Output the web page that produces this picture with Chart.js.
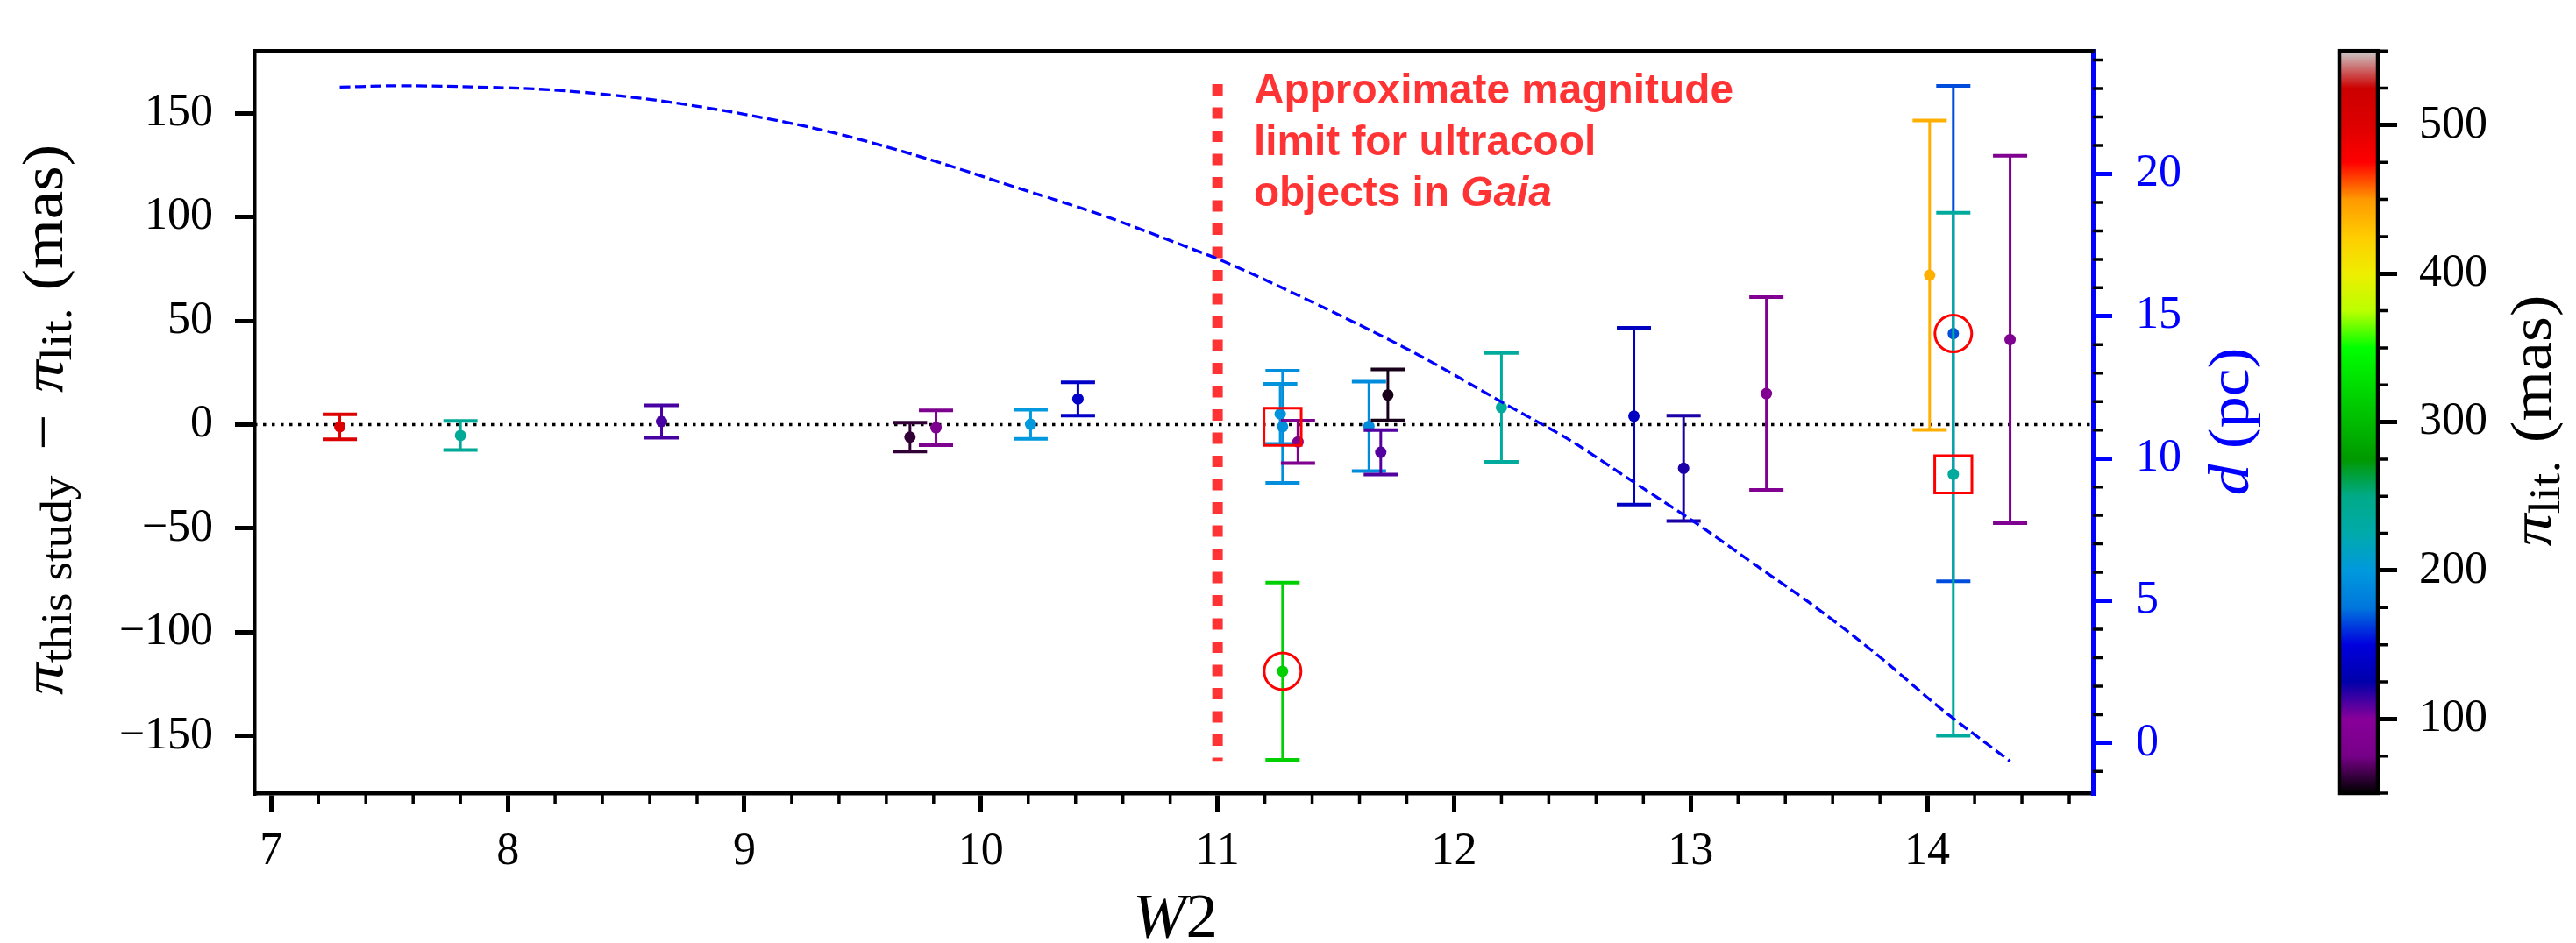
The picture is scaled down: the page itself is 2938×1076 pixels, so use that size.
<!DOCTYPE html>
<html>
<head>
<meta charset="utf-8">
<script src="https://cdn.jsdelivr.net/npm/chart.js@4.4.0/dist/chart.umd.min.js"></script>
<style>
  html, body { margin: 0; padding: 0; background: #fff; }
  #wrap { width: 2938px; height: 1076px; }
</style>
</head>
<body>
<div id="wrap"><canvas id="plxChart" width="2938" height="1076"></canvas></div>
<script>
// --- values ---
const w2      = [7.29, 7.80, 8.65, 9.70, 9.81, 10.21, 10.41, 11.265, 11.275, 11.275, 11.34, 11.64, 11.69, 11.72, 12.20, 12.76, 12.97, 13.32, 14.01, 14.11, 14.11, 14.35];
const dPlx    = [-1.0, -5.2, 1.5, -6.0, -1.5, 0.2, 12.4, 5.2, -1.0, -118.8, -8.3, -0.8, -13.3, 14.3, 8.3, 4.1, -21.0, 15.0, 72.0, 43.9, -23.9, 41.0];
const dPlxErr = [6.0, 7.0, 7.8, 7.0, 8.4, 7.0, 8.0, 14.5, 27.0, 42.7, 10.2, 21.5, 10.7, 12.3, 26.2, 42.6, 25.4, 46.4, 74.5, 119.3, 126.0, 88.5];
const plxLit  = [501, 240, 112, 60, 85, 200, 140, 196, 192, 315, 85, 190, 110, 55, 235, 137, 120, 90, 439, 166, 235, 88];

// red highlight markers
const circledW2 = [11.275, 14.11];
const circledDPlx = [-118.8, 43.9];
const boxedW2 = [11.275, 14.11];
const boxedDPlx = [-1.0, -23.9];

// distance curve (right axis)
const curveW2 = [7.29, 7.54, 7.80, 8.19, 8.58, 8.97, 9.36, 9.75, 10.14, 10.53, 10.67, 10.95, 11.00, 11.45, 11.84, 12.23, 12.49, 12.75, 13.01, 13.27, 13.53, 13.79, 14.05, 14.35];
const curveD  = [23.05, 23.10, 23.07, 22.95, 22.64, 22.14, 21.48, 20.59, 19.55, 18.50, 18.07, 17.18, 17.02, 15.30, 13.68, 11.85, 10.64, 9.22, 7.80, 6.28, 4.76, 3.09, 1.26, -0.64];

// magnitude limit line
const limitW2 = 11;
const limitRange = [164, -162];

// axes
const xRange = [6.9285, 14.70];
const yRange = [-177.5, 180];
const dRange = [-1.76, 24.32];
const cbRange = [50, 550];
const xTicks = [7, 8, 9, 10, 11, 12, 13, 14];
const xTickLabels = ['7', '8', '9', '10', '11', '12', '13', '14'];
const yTicks = [-150, -100, -50, 0, 50, 100, 150];
const yTickLabels = ['\u2212150', '\u2212100', '\u221250', '0', '50', '100', '150'];
const dTicks = [0, 5, 10, 15, 20];
const dTickLabels = ['0', '5', '10', '15', '20'];
const cbTicks = [100, 200, 300, 400, 500];
const cbTickLabels = ['100', '200', '300', '400', '500'];

// nipy_spectral colormap
const spectral = [[0,0,0],[0.4667,0,0.5333],[0.5333,0,0.6],[0,0,0.6667],[0,0,0.8667],[0,0.4667,0.8667],[0,0.6,0.8667],[0,0.6667,0.6667],[0,0.6667,0.5333],[0,0.6,0],[0,0.7333,0],[0,0.8667,0],[0,1,0],[0.7333,1,0],[0.9333,0.9333,0],[1,0.8,0],[1,0.6,0],[1,0,0],[0.8667,0,0],[0.8,0,0],[0.8,0.8,0.8]];
const rgb = c => 'rgb(' + c.map(v => Math.round(v * 255)).join(',') + ')';
function spectralColor(v) {
  const t = Math.min(1, Math.max(0, (v - cbRange[0]) / (cbRange[1] - cbRange[0]))) * (spectral.length - 1);
  const i = Math.min(spectral.length - 2, Math.floor(t));
  const f = t - i;
  return rgb(spectral[i].map((a, k) => a + (spectral[i + 1][k] - a) * f));
}

const SERIF = '"Liberation Serif", "Times New Roman", serif';
const SANS = '"Liberation Sans", Arial, sans-serif';

// --- datasets ---
const datasets = [];
datasets.push({
  data: curveW2.map((x, i) => ({ x, y: curveD[i] })),
  yAxisID: 'y2', showLine: true, borderColor: '#0000ff', borderWidth: 3.3,
  borderDash: [12, 5.5], pointRadius: 0, cubicInterpolationMode: 'monotone', order: 0
});
datasets.push({
  data: circledW2.map((x, i) => ({ x, y: circledDPlx[i] })),
  pointStyle: 'circle', pointRadius: 21, pointBorderWidth: 3,
  pointBorderColor: '#ff0000', pointBackgroundColor: 'rgba(0,0,0,0)', order: 1
});
datasets.push({
  data: boxedW2.map((x, i) => ({ x, y: boxedDPlx[i] })),
  pointStyle: 'rect', pointRadius: 30, pointBorderWidth: 3,
  pointBorderColor: '#ff0000', pointBackgroundColor: 'rgba(0,0,0,0)', order: 1
});
w2.forEach((x, i) => {
  const c = spectralColor(plxLit[i]);
  datasets.push({
    data: [
      { x, y: dPlx[i] - dPlxErr[i] },
      { x, y: dPlx[i] },
      { x, y: dPlx[i] + dPlxErr[i] }
    ],
    showLine: true, borderColor: c, borderWidth: 3,
    pointStyle: ['line', 'circle', 'line'],
    pointRadius: [19.5, 6.5, 19.5],
    pointBorderWidth: [4, 0, 4],
    pointBorderColor: c, pointBackgroundColor: c,
    order: 100 - i
  });
});
datasets.push({
  data: [{ x: xRange[0], y: 0 }, { x: xRange[1], y: 0 }],
  showLine: true, borderColor: '#000', borderWidth: 3.5, borderDash: [3.5, 6.5],
  pointRadius: 0, order: 200
});
datasets.push({
  data: [{ x: limitW2, y: limitRange[0] }, { x: limitW2, y: limitRange[1] }],
  showLine: true, borderColor: 'rgba(255,0,0,0.8)', borderWidth: 12, borderDash: [13, 13.5],
  borderCapStyle: 'butt', pointRadius: 0, order: 200
});

// --- drawing helpers ---
// draws a row of text runs centred on (cx, cy); stretched along the text to `length` px
function drawRuns(ctx, runs, cx, cy, angle, color, length) {
  ctx.save();
  ctx.translate(cx, cy);
  ctx.rotate(angle);
  ctx.fillStyle = color;
  ctx.textBaseline = 'alphabetic';
  ctx.textAlign = 'left';
  let total = 0;
  runs.forEach(r => {
    if (r.gap) { total += r.gap; return; }
    ctx.font = r.font;
    r.w = ctx.measureText(r.text).width;
    total += r.w;
  });
  if (length) ctx.scale(length / total, 1);
  let pos = -total / 2;
  runs.forEach(r => {
    if (r.gap) { pos += r.gap; return; }
    ctx.font = r.font;
    ctx.fillText(r.text, pos, r.dy || 0);
    pos += r.w;
  });
  ctx.restore();
}

const MAIN = '66px ' + SERIF;
const MATH = 'italic 66px ' + SERIF;
const SUB = '50px ' + SERIF;

const extras = {
  id: 'extras',
  afterDatasetsDraw(chart) {
    const ctx = chart.ctx;
    const xs = chart.scales.x;
    // annotation next to the limit line
    ctx.save();
    ctx.fillStyle = 'rgba(255,0,0,0.8)';
    ctx.textBaseline = 'alphabetic';
    const left = xs.getPixelForValue(11.153);
    ctx.font = 'bold 47px ' + SANS;
    const size = 47 * 547 / ctx.measureText('Approximate magnitude').width;
    ctx.font = 'bold ' + size.toFixed(1) + 'px ' + SANS;
    ctx.fillText('Approximate magnitude', left, 118);
    ctx.fillText('limit for ultracool', left, 177);
    ctx.fillText('objects in ', left, 235);
    const w = ctx.measureText('objects in ').width;
    ctx.font = 'italic bold ' + size.toFixed(1) + 'px ' + SANS;
    ctx.fillText('Gaia', left + w, 235);
    ctx.restore();
  },
  afterDraw(chart) {
    const ctx = chart.ctx;
    const { x, y, y2, cb } = chart.scales;
    const area = chart.chartArea;
    ctx.save();
    // top spine
    ctx.strokeStyle = '#000';
    ctx.lineWidth = 4.5;
    ctx.beginPath();
    ctx.moveTo(area.left - 2, area.top);
    ctx.lineTo(area.right + 2, area.top);
    ctx.stroke();

    // minor ticks
    ctx.lineWidth = 3.5;
    ctx.beginPath();
    for (let k = 35; k <= 73; k++) {
      if (k % 5 === 0) continue;
      const px = x.getPixelForValue(k / 5);
      ctx.moveTo(px, area.bottom); ctx.lineTo(px, area.bottom + 12);
    }
    for (let k = -1; k <= 24; k++) {
      if (k % 5 === 0) continue;
      const py = y2.getPixelForValue(k);
      ctx.moveTo(area.right, py); ctx.lineTo(area.right + 12, py);
    }
    for (let k = 50; k <= 550; k += 25) {
      if (k % 100 === 0) continue;
      const py = cb.getPixelForValue(k);
      ctx.moveTo(cb.left, py); ctx.lineTo(cb.left + 12, py);
    }
    ctx.stroke();

    // colour bar
    const top = cb.getPixelForValue(cbRange[1]);
    const bot = cb.getPixelForValue(cbRange[0]);
    const x1 = cb.left, x0 = cb.left - 44;
    const grad = ctx.createLinearGradient(0, bot, 0, top);
    spectral.forEach((c, i) => grad.addColorStop(i / (spectral.length - 1), rgb(c)));
    ctx.fillStyle = grad;
    ctx.fillRect(x0, top, x1 - x0, bot - top);
    ctx.lineWidth = 4.5;
    ctx.strokeRect(x0, top, x1 - x0, bot - top);
    ctx.restore();

    // axis titles
    drawRuns(ctx, [
      { text: '\u03c0', font: MATH },
      { text: 'this study', font: SUB, dy: 10 },
      { gap: 26 },
      { text: '\u2212', font: MAIN },
      { gap: 22 },
      { text: '\u03c0', font: MATH },
      { text: 'lit.', font: SUB, dy: 10 },
      { gap: 18 },
      { text: '(mas)', font: MAIN }
    ], 71, 479, -Math.PI / 2, '#000', 628);
    drawRuns(ctx, [
      { text: 'd', font: MATH },
      { gap: 16 },
      { text: '(pc)', font: MAIN }
    ], 2564, 481, -Math.PI / 2, '#0000ff', 169);
    drawRuns(ctx, [
      { text: '\u03c0', font: MATH },
      { text: 'lit.', font: SUB, dy: 10 },
      { gap: 18 },
      { text: '(mas)', font: MAIN }
    ], 2909, 480, -Math.PI / 2, '#000', 287);
    drawRuns(ctx, [
      { text: 'W', font: 'italic 72px ' + SERIF },
      { text: '2', font: '72px ' + SERIF }
    ], (area.left + area.right) / 2 + 2, 1069, 0, '#000', 97);
  }
};

const tickFont = { family: SERIF, size: 52 };
const majorGrid = (color) => ({
  drawOnChartArea: false, drawTicks: true, tickLength: 22,
  tickWidth: 5, lineWidth: 5, tickColor: color, color: color
});

new Chart(document.getElementById('plxChart').getContext('2d'), {
  type: 'scatter',
  data: { datasets },
  options: {
    responsive: false,
    animation: false,
    events: [],
    layout: { padding: { top: 47, left: 0, right: 0, bottom: 0 } },
    plugins: { legend: { display: false }, tooltip: { enabled: false } },
    scales: {
      x: {
        type: 'linear', position: 'bottom', min: xRange[0], max: xRange[1],
        afterBuildTicks: s => { s.ticks = xTicks.map(v => ({ value: v })); },
        afterFit: s => { s.height = 171; },
        grid: majorGrid('#000'),
        border: { display: true, color: '#000', width: 4.5 },
        ticks: { font: tickFont, color: '#000', padding: 14, maxRotation: 0, autoSkip: false,
                 callback: (v, i) => xTickLabels[i] }
      },
      y: {
        type: 'linear', position: 'left', min: yRange[0], max: yRange[1],
        afterBuildTicks: s => { s.ticks = yTicks.map(v => ({ value: v })); },
        afterFit: s => { s.width = 290; },
        grid: majorGrid('#000'),
        border: { display: true, color: '#000', width: 4.5 },
        ticks: { font: tickFont, color: '#000', padding: 25, autoSkip: false,
                 callback: (v, i) => yTickLabels[i] }
      },
      y2: {
        type: 'linear', position: 'right', weight: 0, min: dRange[0], max: dRange[1],
        afterBuildTicks: s => { s.ticks = dTicks.map(v => ({ value: v })); },
        afterFit: s => { s.width = 325; },
        grid: majorGrid('#0000ff'),
        border: { display: true, color: '#0000ff', width: 5 },
        ticks: { font: tickFont, color: '#0000ff', padding: 27, autoSkip: false,
                 callback: (v, i) => dTickLabels[i] }
      },
      cb: {
        type: 'linear', position: 'right', weight: 1, min: cbRange[0], max: cbRange[1],
        afterBuildTicks: s => { s.ticks = cbTicks.map(v => ({ value: v })); },
        afterFit: s => { s.width = 226; },
        grid: majorGrid('#000'),
        border: { display: false },
        ticks: { font: tickFont, color: '#000', padding: 25, autoSkip: false,
                 callback: (v, i) => cbTickLabels[i] }
      }
    }
  },
  plugins: [extras]
});
</script>
</body>
</html>
